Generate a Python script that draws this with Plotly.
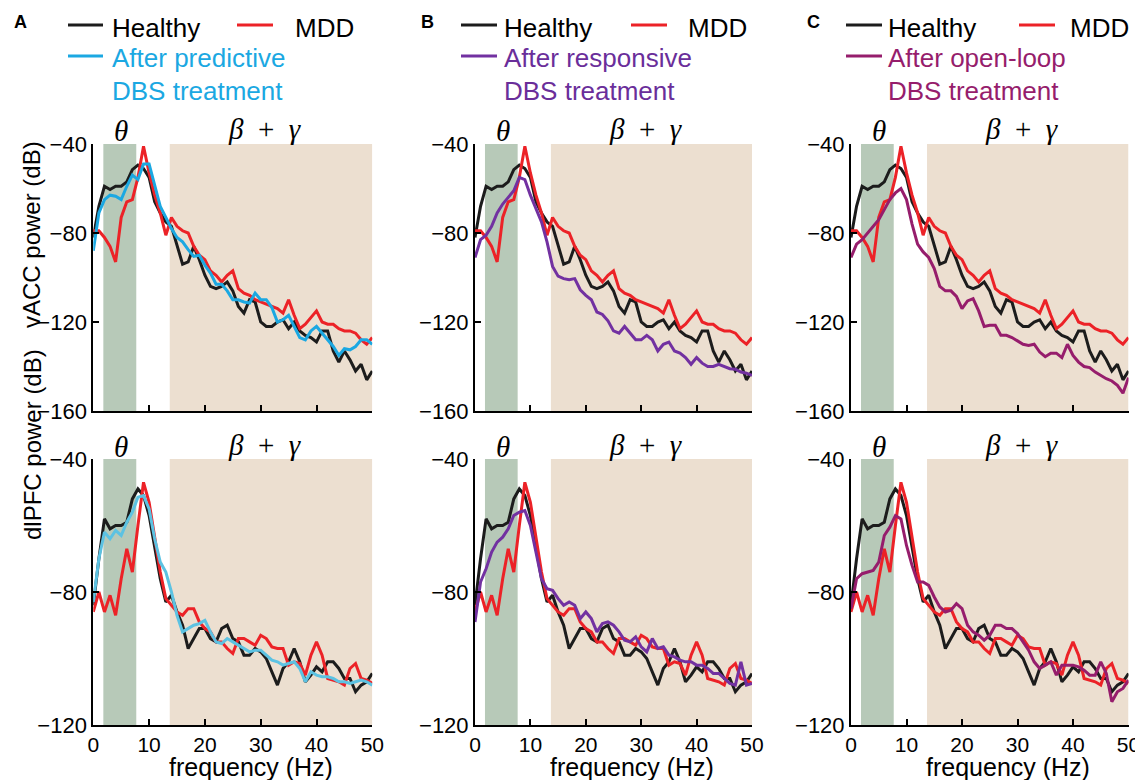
import plotly.graph_objects as go

# ---------------- data ----------------
freq = list(range(51))
x_ticks = [0, 10, 20, 30, 40, 50]
y_ticks_vacc = [-40, -80, -120, -160]
y_ticks_dlpfc = [-40, -80, -120]
theta_band = [1.8, 7.7]
beta_gamma_band = [13.7, 50]

healthy_vacc = [-82, -68, -59, -60.5, -59, -59, -57, -51.5, -49.5, -51,
                -55, -66, -71, -75, -77, -85, -94, -93, -86, -92,
                -99, -104, -105, -104, -102, -106, -113, -116, -110, -111,
                -120, -122, -122, -120, -119, -123, -120, -124, -126, -127,
                -129, -124, -124, -133, -138, -133, -137, -142, -139, -146,
                -142]
mdd_vacc = [-79, -79, -82, -86, -93, -73, -66, -65, -55, -41,
            -53, -63, -71, -81, -73, -77, -79, -80, -86, -90,
            -92, -97, -99, -102, -99, -97, -105, -107, -108, -110,
            -111, -112, -113, -114, -116, -110, -117, -123, -121, -118,
            -115, -120, -121, -121, -123, -124, -124, -125, -128, -130,
            -127]
predictive_vacc = [-88, -71, -65, -63, -63.5, -65, -59, -54, -56, -49,
                   -49, -59, -68, -73, -78, -82, -84, -87.5, -90.5, -90,
                   -94.5, -98, -103, -103, -106, -110, -110, -111, -111.5, -107,
                   -110, -110, -113.5, -120, -119, -117, -122, -127, -128, -124,
                   -122, -125, -128, -131, -135, -132, -132.5, -131, -128, -128,
                   -130]
responsive_vacc = [-91, -83, -81, -77, -71, -67, -64, -61, -55, -56,
                   -63, -69, -75, -84, -95, -99.4, -100.5, -101, -100.5, -105.5,
                   -108, -110, -115.5, -116.6, -119.5, -124, -125, -122, -125, -128,
                   -128, -126, -128, -133, -130, -129, -133, -134, -136, -139,
                   -136, -138.5, -140, -140, -139, -140, -141, -141.2, -142.5, -143,
                   -144]
openloop_vacc = [-91, -85, -83, -80, -77.5, -74, -69.5, -65, -62, -60,
                 -65, -76, -85, -88.5, -91, -96, -104, -106, -106, -108.5,
                 -114, -110.5, -109.5, -115, -122, -121.5, -121.5, -126, -126, -127,
                 -128.5, -130, -130.5, -130, -133.5, -135.6, -134, -134, -136, -130,
                 -135, -138, -140, -140.5, -142.5, -144, -145.5, -146.5, -148.5, -152,
                 -145]

healthy_dlpfc = [-84, -70, -58, -61, -60, -60, -59, -52, -49, -51,
                 -57, -66, -76, -83, -81, -86, -90, -97, -94, -91,
                 -91, -94, -95, -91, -90, -94, -95, -99, -99, -97,
                 -98, -100, -104, -108, -103, -101, -97, -101, -107, -105,
                 -102.5, -104, -101, -101, -103, -106, -106, -110, -108, -107,
                 -104.5]
mdd_dlpfc = [-86, -80, -86, -81, -87, -76, -67, -74, -60, -47,
             -53, -63, -74, -82, -84, -86, -87, -85, -85, -89,
             -91, -92, -95, -95, -97, -98.5, -94, -94, -95, -96,
             -93, -94, -96.5, -97, -97, -102, -101, -101.5, -105, -99,
             -95, -99, -106, -106.5, -107, -108, -103, -101.5, -106, -106.5,
             -107.5]
predictive_dlpfc = [-83, -70, -62, -64, -61.5, -63, -59, -56, -51.5, -51,
                    -55, -64, -71, -74, -80, -87, -92, -91, -90, -89.5,
                    -88.5, -92, -95, -95.5, -94, -95, -96, -97, -98, -97.5,
                    -97.5, -99, -100.5, -101, -102, -101.5, -101, -103, -107, -104,
                    -105, -105.5, -105.5, -106, -107, -107, -107.5, -107, -106.5, -107,
                    -108]
responsive_dlpfc = [-89, -77, -73, -68, -65, -63.5, -61, -57, -56, -55.5,
                    -60, -68, -76, -79, -79.5, -82, -84, -83, -84, -88,
                    -86, -88, -92, -89.5, -89, -90, -92, -94.5, -95, -93.5,
                    -96.5, -98, -94, -97, -96.5, -99, -99.5, -100.5, -101, -101,
                    -102, -102, -103, -104.5, -104.5, -106, -107.5, -108, -101, -108,
                    -107.5]
openloop_dlpfc = [-85, -76, -74.5, -74, -73.5, -71, -63, -60.5, -57, -58,
                  -66, -72, -77, -77, -78, -81.5, -84.5, -86, -85.5, -83.5,
                  -85, -90, -92, -93, -94.5, -93, -90, -90, -91, -91,
                  -92.5, -95, -97.5, -101, -103, -102, -101, -105, -102, -102,
                  -102, -102.5, -103.5, -105, -105, -101, -104.5, -113, -110, -109,
                  -106.5]

panel_letters = ["A", "B", "C"]
treatment_names = [["After predictive", "DBS treatment"],
                   ["After responsive", "DBS treatment"],
                   ["After open-loop", "DBS treatment"]]
row_titles = ["vACC power (dB)", "dlPFC power (dB)"]
x_title = "frequency (Hz)"

# ---------------- styling ----------------
PAGE_W, PAGE_H = 1143, 780
BODY_MARGIN = 8          # default page margin around the plot div
W, H = PAGE_W - BODY_MARGIN, PAGE_H - BODY_MARGIN
BLACK = "#1c1c1c"
RED = "#ec2227"
treat_colors_top = ["#1ba8e2", "#7231a1", "#961d6c"]
treat_colors_bot = ["#5cc2e2", "#7231a1", "#961d6c"]
legend_text_colors = ["#1ba8e2", "#6a2e9a", "#961d6c"]
THETA_COLOR = "#b7c9b8"
BG_COLOR = "#ecdfd0"
SANS = "Liberation Sans, Arial, sans-serif"
SERIF = "Liberation Serif, Times New Roman, serif"

col_px = [(93.3, 372.3), (475.0, 752.0), (851.0, 1128.5)]
row_px = [(144.0, 411.0), (459.0, 725.0)]


def fx(px):
    return (px - BODY_MARGIN) / W


def fy(px):
    return 1 - (px - BODY_MARGIN) / H


top_series = [healthy_vacc, mdd_vacc, [predictive_vacc, responsive_vacc, openloop_vacc]]
bot_series = [healthy_dlpfc, mdd_dlpfc, [predictive_dlpfc, responsive_dlpfc, openloop_dlpfc]]

fig = go.Figure()
layout = {}
shapes = []
annotations = []

for r in range(2):
    series = top_series if r == 0 else bot_series
    ymin = -160 if r == 0 else -120
    yt = y_ticks_vacc if r == 0 else y_ticks_dlpfc
    for c in range(3):
        n = r * 3 + c + 1
        xname = "xaxis" if n == 1 else f"xaxis{n}"
        yname = "yaxis" if n == 1 else f"yaxis{n}"
        xref = "x" if n == 1 else f"x{n}"
        yref = "y" if n == 1 else f"y{n}"
        x0p, x1p = col_px[c]
        y0p, y1p = row_px[r]
        layout[xname] = dict(
            domain=[fx(x0p), fx(x1p)], range=[0, 50], anchor=yref, automargin=False,
            tickvals=x_ticks, ticks="inside", ticklen=6, tickwidth=1.5, tickcolor="black",
            showline=True, linecolor="black", linewidth=2, showgrid=False, zeroline=False,
            showticklabels=(r == 1), tickfont=dict(family=SANS, size=21, color="black"),
            fixedrange=True,
        )
        layout[yname] = dict(
            domain=[fy(y1p), fy(y0p)], range=[ymin, -40], anchor=xref, automargin=False,
            tickvals=yt, ticks="inside", ticklen=6, tickwidth=1.5, tickcolor="black",
            showline=True, linecolor="black", linewidth=2, showgrid=False, zeroline=False,
            tickfont=dict(family=SANS, size=22, color="black"), fixedrange=True,
        )
        # band shading
        shapes.append(dict(type="rect", xref=xref, yref=yref, x0=theta_band[0], x1=theta_band[1],
                           y0=ymin, y1=-40, fillcolor=THETA_COLOR, line=dict(width=0), layer="below"))
        shapes.append(dict(type="rect", xref=xref, yref=yref, x0=beta_gamma_band[0], x1=beta_gamma_band[1],
                           y0=ymin, y1=-40, fillcolor=BG_COLOR, line=dict(width=0), layer="below"))
        tcol = treat_colors_top[c] if r == 0 else treat_colors_bot[c]
        fig.add_trace(go.Scatter(x=freq, y=series[0], mode="lines", line=dict(color=BLACK, width=3),
                                 xaxis=xref, yaxis=yref, showlegend=False, hoverinfo="skip"))
        fig.add_trace(go.Scatter(x=freq, y=series[1], mode="lines", line=dict(color=RED, width=3),
                                 xaxis=xref, yaxis=yref, showlegend=False, hoverinfo="skip"))
        fig.add_trace(go.Scatter(x=freq, y=series[2][c], mode="lines", line=dict(color=tcol, width=3),
                                 xaxis=xref, yaxis=yref, showlegend=False, hoverinfo="skip"))
        # greek labels
        ytxt = 131 if r == 0 else 447
        annotations.append(dict(xref=xref, yref="paper", x=5, y=fy(ytxt), text="<i>θ</i>",
                                showarrow=False, xanchor="center", yanchor="middle",
                                font=dict(family=SERIF, size=29, color="black")))
        annotations.append(dict(xref=xref, yref="paper", x=30.8, y=fy(ytxt - 2),
                                text="<i>β</i>\u2002+\u2002<i>γ</i>",
                                showarrow=False, xanchor="center", yanchor="middle",
                                font=dict(family=SERIF, size=29, color="black")))
        if r == 1:
            annotations.append(dict(xref="paper", yref="paper", x=fx((x0p + x1p) / 2 + 18), y=fy(767),
                                    text=x_title, showarrow=False, xanchor="center", yanchor="middle",
                                    font=dict(family=SANS, size=25, color="black")))

# row titles
annotations.append(dict(xref="paper", yref="paper", x=fx(32), y=fy(235), text=row_titles[0],
                        textangle=-90, showarrow=False, xanchor="center", yanchor="middle",
                        font=dict(family=SANS, size=24, color="black")))
annotations.append(dict(xref="paper", yref="paper", x=fx(32), y=fy(445), text=row_titles[1],
                        textangle=-90, showarrow=False, xanchor="center", yanchor="middle",
                        font=dict(family=SANS, size=24, color="black")))

# legends
letter_x = [20, 427, 813]
swatch_x = [(68, 103), (461, 497), (846, 882)]
red_swatch_x = [(237, 273), (631, 667), (1019, 1055)]
text_x = [110, 502, 886]
mdd_x = [293, 686, 1068]
for c in range(3):
    annotations.append(dict(xref="paper", yref="paper", x=fx(letter_x[c]), y=fy(22), text=f"<b>{panel_letters[c]}</b>",
                            showarrow=False, xanchor="center", yanchor="middle",
                            font=dict(family=SANS, size=18, color="black")))
    s0, s1 = swatch_x[c]
    shapes.append(dict(type="line", xref="paper", yref="paper", x0=fx(s0), x1=fx(s1), y0=fy(25), y1=fy(25),
                       line=dict(color=BLACK, width=3)))
    shapes.append(dict(type="line", xref="paper", yref="paper", x0=fx(red_swatch_x[c][0]), x1=fx(red_swatch_x[c][1]),
                       y0=fy(25), y1=fy(25), line=dict(color=RED, width=3)))
    shapes.append(dict(type="line", xref="paper", yref="paper", x0=fx(s0), x1=fx(s1), y0=fy(56), y1=fy(56),
                       line=dict(color=treat_colors_top[c], width=3)))
    annotations.append(dict(xref="paper", yref="paper", x=fx(text_x[c]), y=fy(28), text="Healthy",
                            showarrow=False, xanchor="left", yanchor="middle",
                            font=dict(family=SANS, size=26, color="black")))
    annotations.append(dict(xref="paper", yref="paper", x=fx(mdd_x[c]), y=fy(28), text="MDD",
                            showarrow=False, xanchor="left", yanchor="middle",
                            font=dict(family=SANS, size=26, color="black")))
    annotations.append(dict(xref="paper", yref="paper", x=fx(text_x[c]), y=fy(58), text=treatment_names[c][0],
                            showarrow=False, xanchor="left", yanchor="middle",
                            font=dict(family=SANS, size=26, color=legend_text_colors[c])))
    annotations.append(dict(xref="paper", yref="paper", x=fx(text_x[c]), y=fy(91), text=treatment_names[c][1],
                            showarrow=False, xanchor="left", yanchor="middle",
                            font=dict(family=SANS, size=26, color=legend_text_colors[c])))

fig.update_layout(
    width=W, height=H, autosize=False,
    margin=dict(l=0, r=0, t=0, b=0, pad=0, autoexpand=False),
    paper_bgcolor="white", plot_bgcolor="white",
    shapes=shapes, annotations=annotations, showlegend=False,
    **layout,
)

fig.write_html("out.html", config={"displayModeBar": False})
